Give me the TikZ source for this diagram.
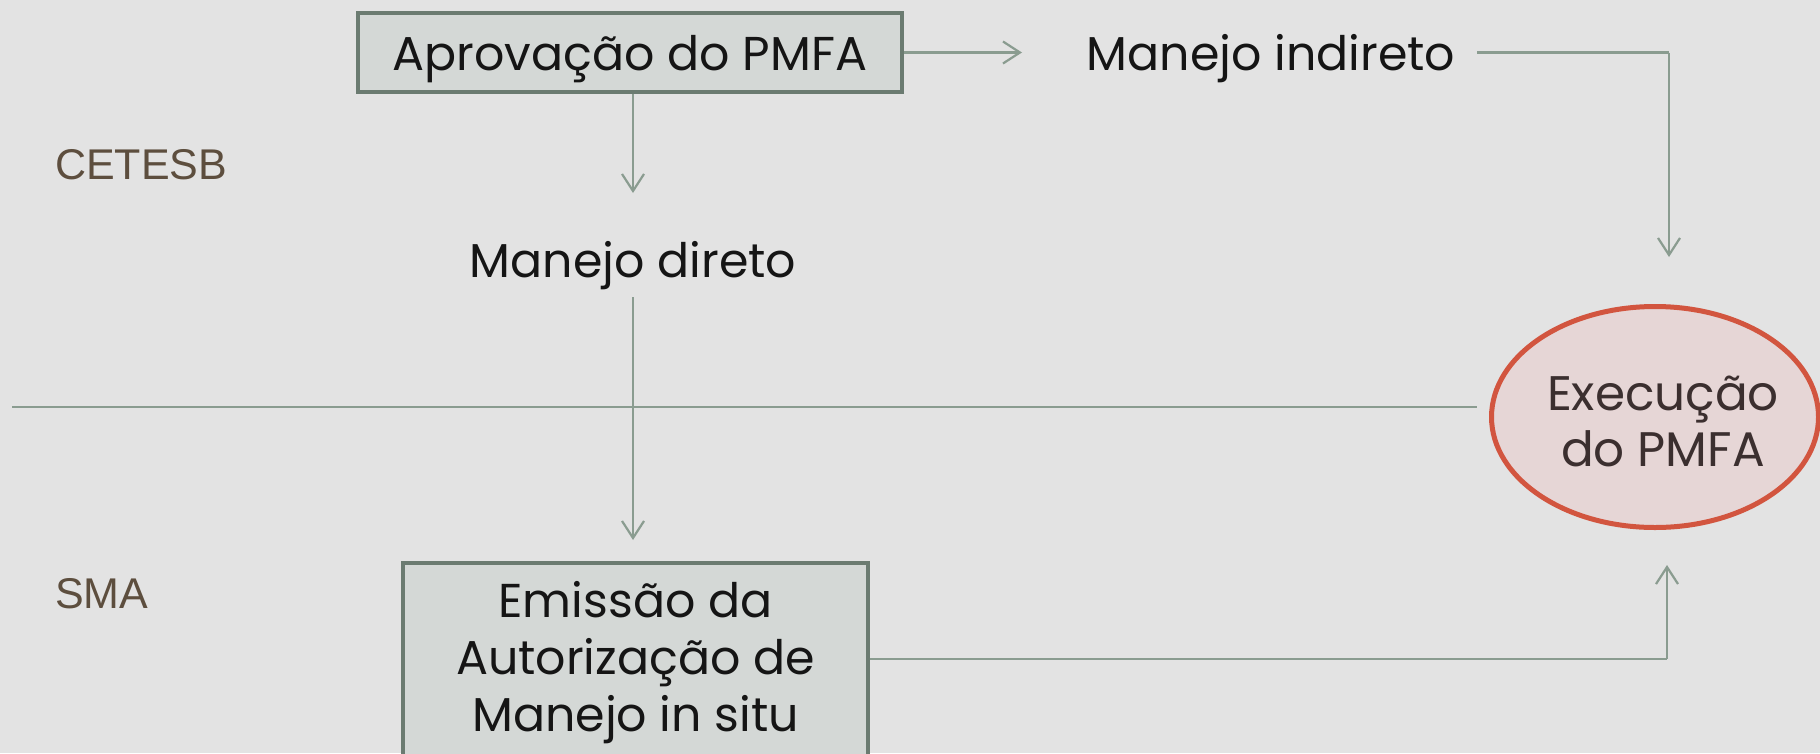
\documentclass[tikz,border=0pt]{standalone}
\usepackage{fontspec}
\setmainfont{Poppins}
\setsansfont{Liberation Sans}
\usetikzlibrary{arrows.meta,shapes.geometric}
\definecolor{bg}{HTML}{E3E3E3}
\definecolor{linecol}{HTML}{8A9C90}
\definecolor{boxline}{HTML}{6B7B71}
\definecolor{boxfill}{HTML}{D4D8D6}
\definecolor{elline}{HTML}{D2553F}
\definecolor{elfill}{HTML}{E6D6D6}
\definecolor{eltext}{HTML}{3B2F2F}
\definecolor{txtcol}{HTML}{151515}
\definecolor{sidecol}{HTML}{5D4E3E}
\begin{document}
\begin{tikzpicture}[x=1pt,y=-1pt,
  conn/.style={draw=linecol, line width=2.2pt},
  arr/.style={conn, -{Straight Barb[length=17pt,width=22pt,line width=2.2pt]}},
  txt/.style={font=\fontsize{47.5}{57}\selectfont, text=txtcol, inner sep=0pt},
  boxstyle/.style={draw=boxline, fill=boxfill, line width=4pt, inner sep=0pt},
  side/.style={font=\sffamily\fontsize{43}{50}\selectfont, text=sidecol, inner sep=0pt, anchor=base west}]
\useasboundingbox (0,0) rectangle (1820,753);
\clip (0,0) rectangle (1820,753);
\fill[bg] (0,0) rectangle (1820,753);

% side labels
\node[side] (cet) at (55,179) {CETESB};
\node[side] (sma) at (55,608) {SMA};

% separator
\coordinate (sepL) at (12,407);
\coordinate (sepR) at (1477,407);
\draw[conn] (sepL) -- (sepR);

% top box
\node[boxstyle, txt, minimum width=544pt, minimum height=79pt, text height=35pt, text depth=0pt] (apr) at (630,52.5) {Aprovação do PMFA};

% manejo indireto
\node[txt, anchor=base] (ind) at (1271,70) {Manejo indireto};
\coordinate (indIn) at (1022,52.5);
\coordinate (indOut) at (1477,52.5);
\coordinate (indCorner) at (1669,52.5);
\coordinate (exTop) at (1669,257);

% manejo direto
\node[txt, anchor=base] (dir) at (633,277) {Manejo direto};
\coordinate (dirIn) at (633,193);
\coordinate (dirOut) at (633,297);
\coordinate (emiIn) at (633,540);

% bottom box
\node[boxstyle, txt, align=center, minimum width=465pt, minimum height=200pt] (emi) at (635.5,663) {Emissão da\\Autorização de\\Manejo in situ};

% ellipse
\node[ellipse, draw=elline, fill=elfill, line width=5pt, inner sep=0pt, minimum width=327pt, minimum height=221pt] (exe) at (1655,417) {};
\node[font=\fontsize{48.5}{56}\selectfont, text=eltext, align=center, inner sep=0pt] (exet) at ([xshift=8pt,yshift=-4pt]exe.center) {Execução\\do PMFA};
\coordinate (exBot) at (1667,565);
\coordinate (emiCorner) at (1667,659);

% connectors
\draw[arr] (apr.east) -- (indIn);
\draw[conn] (indOut) -- (indCorner);
\draw[arr] (indCorner) -- (exTop);
\draw[arr] (apr.south -| dirIn) -- (dirIn);
\draw[arr] (dirOut) -- (emiIn);
\draw[conn] (emi.east |- emiCorner) -- (emiCorner);
\draw[arr] (emiCorner) -- (exBot);
\end{tikzpicture}
\end{document}
